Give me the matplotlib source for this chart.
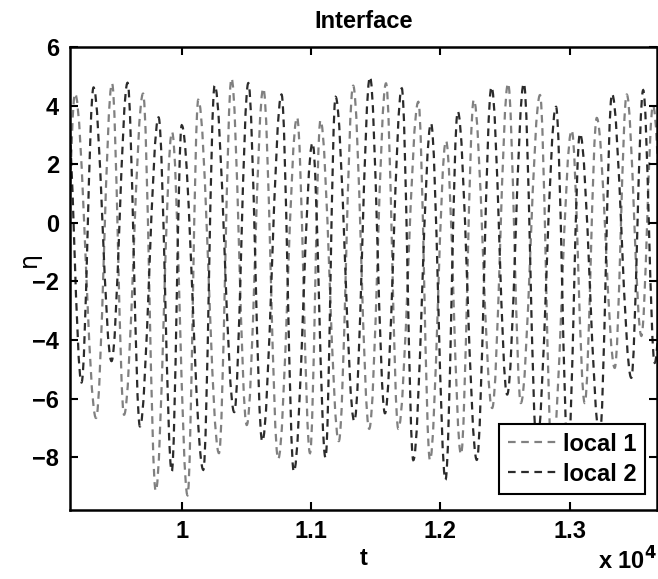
import matplotlib
matplotlib.use("Agg")
import matplotlib.pyplot as plt
from matplotlib.path import Path
from matplotlib.patches import PathPatch
from matplotlib.lines import Line2D

# turning points (t, eta), in time order
t_local1 = [9082, 9175, 9337, 9461, 9554, 9701, 9799, 9925, 10045, 10128,
            10288, 10385, 10503, 10631, 10746, 10892, 10992, 11073, 11215, 11326,
            11450, 11580, 11675, 11830, 11920, 12044, 12160, 12259, 12401, 12524,
            12623, 12771, 12864, 13016, 13117, 13210, 13349, 13442, 13555, 13645,
            13761]
eta_local1 = [-4.5, 4.41, -6.66, 4.76, -6.55, 4.41, -9.15, 3.1, -9.3, 4.2,
              -7.86, 4.93, -6.9, 4.59, -8.06, 3.6, -7.86, 3.5, -7.45, 4.68,
              -7.03, 4.76, -7.03, 4.13, -8.1, 2.8, -7.9, 4.2, -6.32, 4.76,
              -6.15, 4.36, -8.0, 3.16, -6.15, 3.58, -4.95, 4.38, -3.86, 4.0,
              -4.0]

t_local2 = [9113, 9225, 9318, 9457, 9581, 9677, 9821, 9923, 10000, 10167,
            10255, 10406, 10515, 10623, 10772, 10867, 11012, 11112, 11190, 11335,
            11456, 11572, 11702, 11791, 11928, 12040, 12135, 12282, 12396, 12517,
            12646, 12746, 12895, 12988, 13080, 13233, 13328, 13477, 13569, 13658,
            13777]
eta_local2 = [4.0, -5.45, 4.62, -4.72, 4.78, -6.95, 3.6, -8.49, 3.33, -8.43,
              4.7, -6.46, 4.77, -7.46, 4.38, -8.49, 2.73, -8.02, 4.3, -6.77,
              4.98, -6.5, 4.59, -8.1, 3.4, -8.77, 3.8, -8.09, 4.64, -5.86,
              4.76, -7.6, 3.96, -7.9, 3.05, -7.3, 4.4, -5.29, 4.53, -4.78,
              4.0]

labels = ['local 1', 'local 2']
colors = ['#808080', '#2b2b2b']

xticks = [10000, 11000, 12000, 13000]
xticklabels = ['1', '1.1', '1.2', '1.3']
yticks = [-8, -6, -4, -2, 0, 2, 4, 6]


def smooth_path(t, v, k=0.36):
    # cubic segments with flat tangents at each turning point
    verts = [(t[0], v[0])]
    codes = [Path.MOVETO]
    for i in range(1, len(t)):
        dt = t[i] - t[i - 1]
        verts += [(t[i - 1] + k * dt, v[i - 1]), (t[i] - k * dt, v[i]), (t[i], v[i])]
        codes += [Path.CURVE4] * 3
    return Path(verts, codes)


plt.rcParams['font.family'] = ['Liberation Sans', 'DejaVu Sans']
plt.rcParams['font.weight'] = 'bold'
plt.rcParams['lines.scale_dashes'] = False

fs = 17
fig = plt.figure(figsize=(6.58, 5.79), dpi=100)
ax = fig.add_axes([0.1064, 0.1192, 0.8921, 0.7996])

dash = (0, (5.5, 4.0))
lw = 1.6
for t, v, c in [(t_local1, eta_local1, colors[0]), (t_local2, eta_local2, colors[1])]:
    ax.add_patch(PathPatch(smooth_path(t, v), fill=False, edgecolor=c,
                           lw=lw, linestyle=dash, capstyle='butt'))

ax.set_xlim(9136, 13676)
ax.set_ylim(-9.8, 6)
ax.set_xticks(xticks)
ax.set_xticklabels(xticklabels)
ax.set_yticks(yticks)
ax.tick_params(direction='in', length=6, width=1.5, labelsize=fs,
               top=True, right=True, pad=8)
ax.tick_params(axis='x', pad=7)
for s in ax.spines.values():
    s.set_linewidth(1.8)

ax.set_title('Interface', fontsize=fs, fontweight='bold', pad=14)
ax.set_xlabel('t', fontsize=fs, fontweight='bold', labelpad=3)
ax.set_ylabel('\u03b7', fontsize=fs, fontweight='normal', family='DejaVu Sans')
ax.yaxis.set_label_coords(-0.05, 0.54)
fig.text(0.999, 0.008, r'x 10$^{\mathbf{4}}$', ha='right', va='bottom',
         fontsize=fs, fontweight='bold')

handles = [Line2D([], [], color=c, lw=lw, linestyle=dash) for c in colors]
leg = ax.legend(handles, labels, loc='lower right', fontsize=fs,
                handlelength=2.1, handletextpad=0.25, borderpad=0.35,
                labelspacing=0.3, fancybox=False, framealpha=1,
                edgecolor='black', borderaxespad=0,
                bbox_to_anchor=(0.9796, 0.0346))
leg.get_frame().set_linewidth(1.5)

fig.savefig('out.png', dpi=100)
